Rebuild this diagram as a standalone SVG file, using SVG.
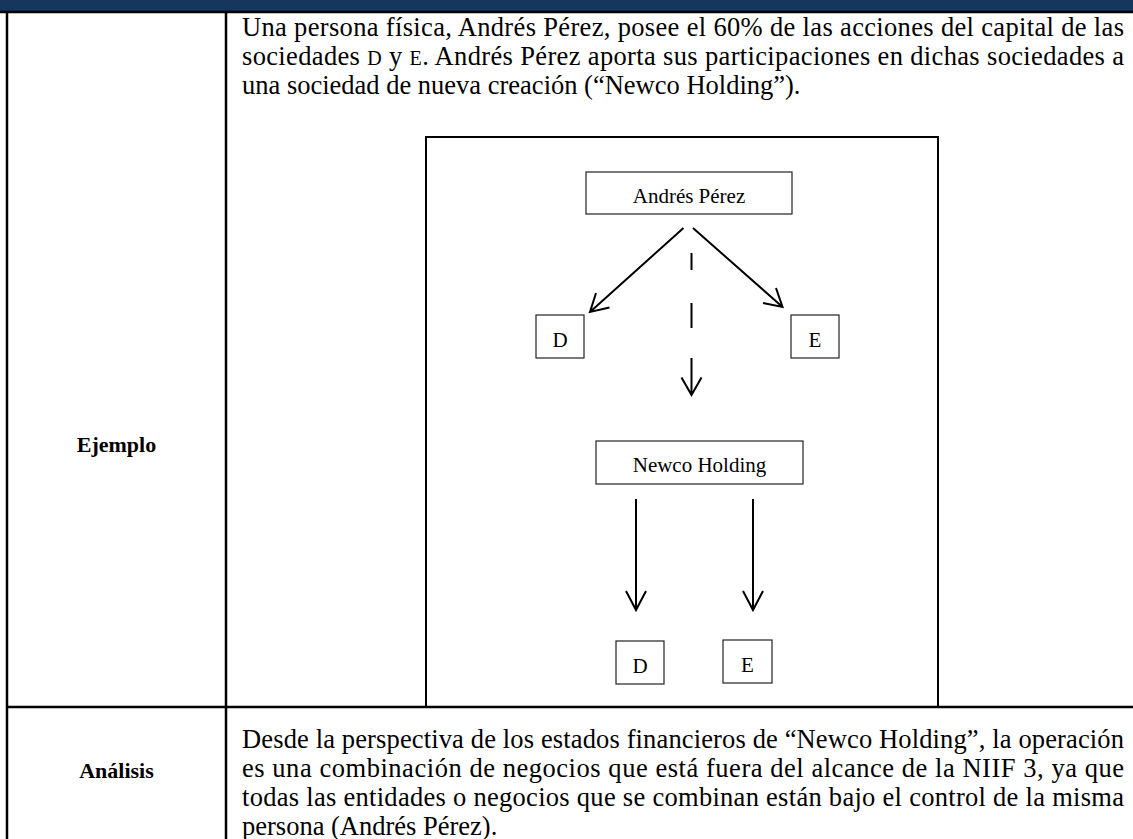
<svg xmlns="http://www.w3.org/2000/svg" width="1133" height="839" viewBox="0 0 1133 839">
<style>
.body{font-family:"Liberation Serif","Times New Roman",serif;font-size:26.5px;fill:#000}
.lbl{font-family:"Liberation Serif","Times New Roman",serif;font-size:22px;font-weight:bold;fill:#000}
.dg{font-family:"Liberation Serif","Times New Roman",serif;font-size:21px;fill:#000}
.sc{font-size:20px}
.grid{stroke:#000;stroke-width:2.5;fill:none}
.box{fill:#fff;stroke:#222;stroke-width:1.2}
.conn{stroke:#000;stroke-width:2;fill:none}
</style>
<rect x="0" y="0" width="1133" height="839" fill="#fff"/>
<rect x="0" y="0" width="1133" height="11" fill="#17365d"/>
<g id="table">
<line class="grid" x1="0" y1="12" x2="1133" y2="12"/>
<line class="grid" x1="7" y1="12" x2="7" y2="839"/>
<line class="grid" x1="226" y1="12" x2="226" y2="839"/>
<line class="grid" x1="7" y1="707" x2="1133" y2="707"/>
</g>
<g id="texto-ejemplo">
<text class="body" x="242" y="36" textLength="882" lengthAdjust="spacing">Una persona física, Andrés Pérez, posee el 60% de las acciones del capital de las</text>
<text class="body" x="242" y="65" textLength="882" lengthAdjust="spacing">sociedades <tspan class="sc">D</tspan> y <tspan class="sc">E</tspan>. Andrés Pérez aporta sus participaciones en dichas sociedades a</text>
<text class="body" x="242" y="94">una sociedad de nueva creación (“Newco Holding”).</text>
</g>
<g id="label-ejemplo"><text class="lbl" x="116.5" y="452" text-anchor="middle">Ejemplo</text></g>
<g id="label-analisis"><text class="lbl" x="116.5" y="778" text-anchor="middle">Análisis</text></g>
<g id="texto-analisis">
<text class="body" x="242" y="748" textLength="882" lengthAdjust="spacing">Desde la perspectiva de los estados financieros de “Newco Holding”, la operación</text>
<text class="body" x="242" y="777" textLength="882" lengthAdjust="spacing">es una combinación de negocios que está fuera del alcance de la NIIF 3, ya que</text>
<text class="body" x="242" y="806" textLength="882" lengthAdjust="spacing">todas las entidades o negocios que se combinan están bajo el control de la misma</text>
<text class="body" x="242" y="835">persona (Andrés Pérez).</text>
</g>
<g id="diagram-frame"><rect x="426" y="137" width="512" height="570" fill="none" stroke="#000" stroke-width="2"/></g>
<g id="node-andres"><rect class="box" x="586" y="172" width="206" height="42"/><text class="dg" x="689" y="203" text-anchor="middle">Andrés Pérez</text></g>
<g id="node-d1"><rect class="box" x="536" y="315" width="48" height="43"/><text class="dg" x="560" y="347" text-anchor="middle">D</text></g>
<g id="node-e1"><rect class="box" x="791" y="315" width="48" height="43"/><text class="dg" x="815" y="347" text-anchor="middle">E</text></g>
<g id="node-newco"><rect class="box" x="596" y="441" width="207" height="43"/><text class="dg" x="699.5" y="472" text-anchor="middle">Newco Holding</text></g>
<g id="node-d2"><rect class="box" x="616" y="641" width="48" height="43"/><text class="dg" x="640" y="673" text-anchor="middle">D</text></g>
<g id="node-e2"><rect class="box" x="723" y="640" width="49" height="43"/><text class="dg" x="747.5" y="672" text-anchor="middle">E</text></g>
<g id="connectors">
<path class="conn" d="M683.5,228 L590,312 M596,293 L590,312 L609.5,307.5"/>
<path class="conn" d="M693,228 L782.5,307 M776,288 L782.5,307 L763,303"/>
<path class="conn" d="M691.5,253 V270 M691.5,303 V328 M691.5,358 V395 M681.5,377.5 L691.5,395 L701.5,377.5"/>
<path class="conn" d="M636,499 V610 M626,591 L636,610 L646,591"/>
<path class="conn" d="M753,499 V610 M743,591 L753,610 L763,591"/>
</g>
</svg>
